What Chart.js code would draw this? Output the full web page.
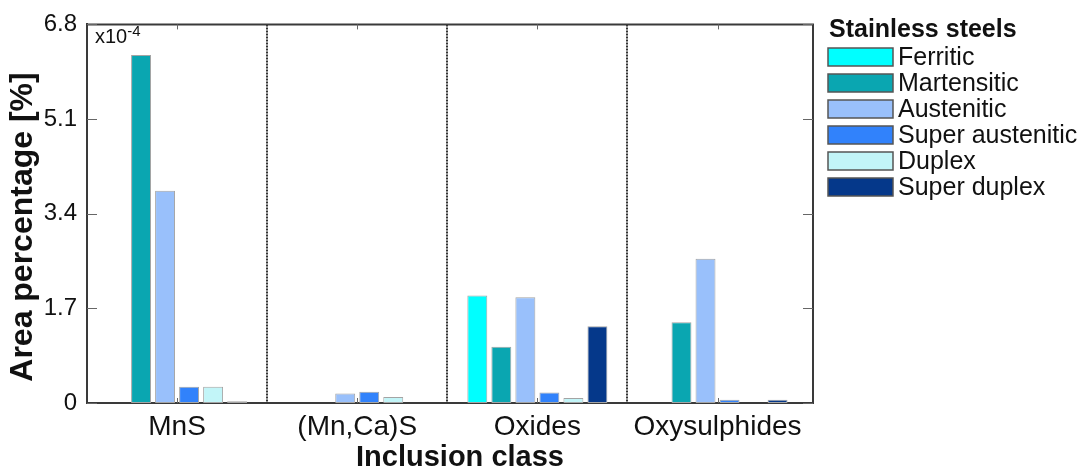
<!DOCTYPE html>
<html>
<head>
<meta charset="utf-8">
<script src="https://cdn.jsdelivr.net/npm/chart.js@4/dist/chart.umd.min.js"></script>
<style>
  html, body { margin: 0; padding: 0; background: #fff; }
  #wrap { width: 1087px; height: 471px; }
</style>
</head>
<body>
<div id="wrap"><canvas id="c" width="1087" height="471"></canvas></div>
<script>
// Inclusion classes along the x axis
const categories = ['MnS', '(Mn,Ca)S', 'Oxides', 'Oxysulphides'];

// Area percentage per steel grade (units of 1e-4 %)
const ferritic        = [0,    0,    1.93, 0];
const martensitic     = [6.25, 0,    1.01, 1.45];
const austenitic      = [3.81, 0.17, 1.90, 2.59];
const superAustenitic = [0.29, 0.20, 0.19, 0.06];
const duplex          = [0.29, 0.11, 0.09, 0];
const superDuplex     = [0.03, 0,    1.38, 0.06];

// Y axis tick values
const yTickValues = [0, 1.7, 3.4, 5.1, 6.8];

const seriesNames  = ['Ferritic', 'Martensitic', 'Austenitic', 'Super austenitic', 'Duplex', 'Super duplex'];
const seriesValues = [ferritic, martensitic, austenitic, superAustenitic, duplex, superDuplex];
const seriesColors = ['#00ffff', '#0aa6b1', '#99c0fb', '#3182fb', '#c2f5f8', '#05388a'];

const legendTitle = 'Stainless steels';
const xTitle = 'Inclusion class';
const yTitle = 'Area percentage [%]';

const FONT = '"Liberation Sans", Arial, Helvetica, sans-serif';
const AXIS = '#3a3a3a';

const datasets = seriesValues.map((vals, i) => ({
  label: seriesNames[i],
  data: vals.map((v, k) => ({ x: k + 1, y: v })),
  backgroundColor: seriesColors[i],
  borderColor: '#a4a4a4',
  borderWidth: 1,
  borderSkipped: false,
  categoryPercentage: 0.8,
  barPercentage: 0.83
}));

// Frame, dotted class separators, inward ticks, titles and legend
const decorations = {
  id: 'decorations',
  beforeDatasetsDraw(chart) {
    const { ctx, chartArea: a, scales: { x } } = chart;
    ctx.save();
    ctx.strokeStyle = '#333';
    ctx.lineWidth = 2;
    ctx.setLineDash([2, 1]);
    for (let k = 1; k < categories.length; k++) {
      const px = Math.round(x.getPixelForValue(k + 0.5));
      ctx.beginPath();
      ctx.moveTo(px, a.top);
      ctx.lineTo(px, a.bottom);
      ctx.stroke();
    }
    ctx.restore();
  },
  afterDatasetsDraw(chart) {
    const { ctx, chartArea: a, scales: { x, y } } = chart;
    ctx.save();
    // top and right frame
    ctx.strokeStyle = AXIS;
    ctx.lineWidth = 2;
    ctx.beginPath();
    ctx.moveTo(a.left, a.top);
    ctx.lineTo(a.right, a.top);
    ctx.lineTo(a.right, a.bottom);
    ctx.stroke();

    // inward ticks
    ctx.strokeStyle = '#666';
    ctx.lineWidth = 1;
    yTickValues.forEach(v => {
      const py = Math.round(y.getPixelForValue(v)) + 0.5;
      ctx.beginPath();
      ctx.moveTo(a.left, py); ctx.lineTo(a.left + 10, py);
      ctx.moveTo(a.right, py); ctx.lineTo(a.right - 10, py);
      ctx.stroke();
    });
    categories.forEach((c, k) => {
      const px = Math.round(x.getPixelForValue(k + 1)) + 0.5;
      ctx.beginPath();
      ctx.moveTo(px, a.top); ctx.lineTo(px, a.top + 5);
      ctx.moveTo(px, a.bottom); ctx.lineTo(px, a.bottom - 5);
      ctx.stroke();
    });

    // exponent label
    ctx.fillStyle = '#111';
    ctx.textAlign = 'left';
    ctx.textBaseline = 'alphabetic';
    ctx.font = '20px ' + FONT;
    ctx.fillText('x10', a.left + 8, 43);
    const w = ctx.measureText('x10').width;
    ctx.font = '15px ' + FONT;
    ctx.fillText('-4', a.left + 8 + w, 36);

    // axis titles
    ctx.font = 'bold 29px ' + FONT;
    ctx.textAlign = 'center';
    ctx.fillText(xTitle, 460, 466);
    ctx.save();
    ctx.translate(32, 227);
    ctx.rotate(-Math.PI / 2);
    ctx.font = 'bold 32px ' + FONT;
    ctx.fillText(yTitle, 0, 0);
    ctx.restore();

    // legend
    ctx.textAlign = 'left';
    ctx.font = 'bold 25px ' + FONT;
    ctx.fillText(legendTitle, 829, 37);
    ctx.font = '25px ' + FONT;
    chart.data.datasets.forEach((ds, i) => {
      const top = 48 + 26 * i;
      ctx.fillStyle = ds.backgroundColor;
      ctx.fillRect(828, top, 65, 18);
      ctx.strokeStyle = '#555';
      ctx.lineWidth = 1.5;
      ctx.strokeRect(828, top, 65, 18);
      ctx.fillStyle = '#111';
      ctx.textBaseline = 'middle';
      ctx.fillText(ds.label, 898, top + 10);
    });
    ctx.restore();
  }
};

new Chart(document.getElementById('c'), {
  type: 'bar',
  data: { datasets },
  options: {
    responsive: false,
    animation: false,
    devicePixelRatio: 1,
    layout: { padding: { left: 0, top: 20, right: 274, bottom: 0 } },
    plugins: { legend: { display: false }, tooltip: { enabled: false } },
    scales: {
      x: {
        type: 'linear',
        min: 0.5,
        max: 4.53,
        offset: false,
        afterBuildTicks: s => { s.ticks = categories.map((c, k) => ({ value: k + 1 })); },
        afterFit: s => { s.height = 68; },
        grid: { display: false, drawTicks: false },
        border: { display: true, color: AXIS, width: 2 },
        ticks: {
          padding: 7,
          color: '#111',
          font: { family: FONT, size: 28 },
          maxRotation: 0,
          autoSkip: false,
          callback: v => categories[Math.round(v) - 1] ?? ''
        }
      },
      y: {
        min: 0,
        max: 6.8,
        afterBuildTicks: s => { s.ticks = yTickValues.map(v => ({ value: v })); },
        afterFit: s => { s.width = 87; },
        grid: { display: false, drawTicks: false },
        border: { display: true, color: AXIS, width: 2 },
        ticks: {
          padding: 10,
          color: '#111',
          font: { family: FONT, size: 24 },
          callback: v => (v === 0 ? '0' : v.toFixed(1))
        }
      }
    }
  },
  plugins: [decorations]
});
</script>
</body>
</html>
